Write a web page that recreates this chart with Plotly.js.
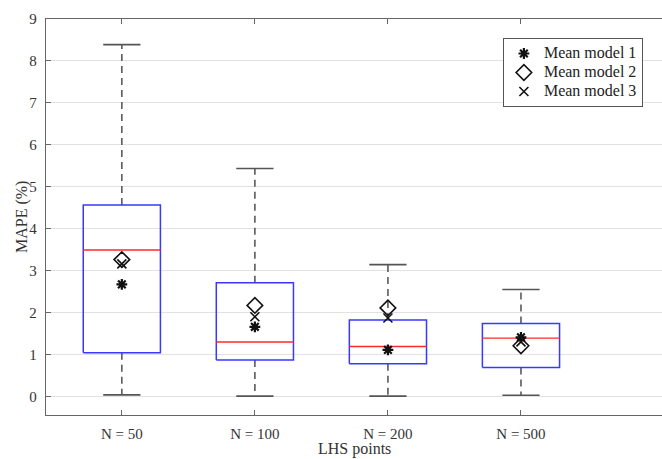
<!DOCTYPE html>
<html>
<head>
<meta charset="utf-8">
<script src="https://cdn.plot.ly/plotly-3.0.1.min.js"></script>
<style>
  html, body { margin: 0; padding: 0; background: #fff; overflow: hidden; }
  #chart { width: 662px; height: 459px; }
</style>
</head>
<body>
<div id="chart"></div>
<script>
// Sample sizes (LHS points) and MAPE box statistics, in %
const categories = ['N = 50', 'N = 100', 'N = 200', 'N = 500'];
const lowerWhisker = [0.05, 0.02, 0.02, 0.04];
const q1 = [1.05, 0.88, 0.79, 0.70];
const median = [3.50, 1.31, 1.20, 1.40];
const q3 = [4.57, 2.72, 1.83, 1.75];
const upperWhisker = [8.39, 5.44, 3.15, 2.56];

// Mean MAPE of each model per sample size
const meanModel1 = [2.68, 1.67, 1.12, 1.42];
const meanModel2 = [3.27, 2.18, 2.12, 1.22];
const meanModel3 = [3.17, 1.91, 1.88, 1.31];

const seriesNames = ['Mean model 1', 'Mean model 2', 'Mean model 3'];
const yTicks = [0, 1, 2, 3, 4, 5, 6, 7, 8, 9];
const xTitle = 'LHS points';
const yTitle = 'MAPE (%)';

const serif = 'Liberation Serif, Times New Roman, serif';
const pos = categories.map((_, i) => i + 1);
const boxHalf = 0.29;   // half box width, in category units
const capHalf = 0.14;   // half whisker-cap width

// Legend labels drawn larger than the compact legend row height
const legendLabel = t => '<span style="font-size:16px">' + t + '</span>';

// Assemble per-group line paths separated by nulls
function paths(build) {
  const xs = [], ys = [];
  pos.forEach((p, i) => {
    const seg = build(p, i);
    xs.push(...seg.x, null);
    ys.push(...seg.y, null);
  });
  return { x: xs, y: ys };
}

const whiskers = paths((p, i) => ({
  x: [p, p, null, p, p],
  y: [q3[i], upperWhisker[i], null, q1[i], lowerWhisker[i]]
}));
const caps = paths((p, i) => ({
  x: [p - capHalf, p + capHalf, null, p - capHalf, p + capHalf],
  y: [upperWhisker[i], upperWhisker[i], null, lowerWhisker[i], lowerWhisker[i]]
}));
const boxes = paths((p, i) => ({
  x: [p - boxHalf, p + boxHalf, p + boxHalf, p - boxHalf, p - boxHalf],
  y: [q1[i], q1[i], q3[i], q3[i], q1[i]]
}));
const medians = paths((p, i) => ({
  x: [p - boxHalf, p + boxHalf],
  y: [median[i], median[i]]
}));

const traces = [
  { type: 'scatter', mode: 'lines', x: whiskers.x, y: whiskers.y, showlegend: false,
    hoverinfo: 'skip', line: { color: '#5a5a5a', width: 1.6, dash: '7px,5px' } },
  { type: 'scatter', mode: 'lines', x: caps.x, y: caps.y, showlegend: false,
    hoverinfo: 'skip', line: { color: '#555', width: 1.6 } },
  { type: 'scatter', mode: 'lines', x: boxes.x, y: boxes.y, showlegend: false,
    hoverinfo: 'skip', line: { color: '#3838ff', width: 1.5 } },
  { type: 'scatter', mode: 'lines', x: medians.x, y: medians.y, showlegend: false,
    hoverinfo: 'skip', line: { color: '#ff2a2a', width: 1.4 } },
  { type: 'scatter', mode: 'markers', name: legendLabel(seriesNames[0]), x: pos, y: meanModel1,
    marker: { symbol: 'asterisk-open', size: 9, color: '#111', line: { color: '#111', width: 2.2 } } },
  { type: 'scatter', mode: 'markers', name: legendLabel(seriesNames[1]), x: pos, y: meanModel2,
    marker: { symbol: 'diamond-open', size: 12, color: '#111', line: { color: '#111', width: 1.6 } } },
  { type: 'scatter', mode: 'markers', name: legendLabel(seriesNames[2]), x: pos, y: meanModel3,
    marker: { symbol: 'x-thin-open', size: 9, color: '#111', line: { color: '#111', width: 1.6 } } }
];

const layout = {
  width: 662,
  height: 459,
  margin: { l: 46, r: 0, t: 19, b: 44 },
  paper_bgcolor: '#fff',
  plot_bgcolor: '#fff',
  font: { family: serif, size: 15, color: '#333' },
  showlegend: true,
  legend: {
    x: 0.969, y: 0.952, xanchor: 'right', yanchor: 'top',
    bgcolor: '#fff', bordercolor: '#555', borderwidth: 1,
    font: { family: serif, size: 12, color: '#222' },
    itemclick: false
  },
  xaxis: {
    range: [0.43, 5.06],
    tickvals: pos,
    ticktext: categories,
    ticks: 'inside', ticklen: 5, tickcolor: '#666', tickwidth: 1,
    showline: true, linecolor: '#666', linewidth: 1.2, mirror: 'ticks',
    showgrid: false, zeroline: false,
    ticklabelstandoff: 5,
    tickfont: { family: serif, size: 15, color: '#333' }
  },
  yaxis: {
    range: [-0.43, 9],
    tickvals: yTicks,
    ticks: 'inside', ticklen: 5, tickcolor: '#666', tickwidth: 1,
    showline: true, linecolor: '#666', linewidth: 1.2,
    showgrid: true, gridcolor: '#e2e2e2', gridwidth: 1,
    zeroline: false,
    ticklabelstandoff: 5,
    tickfont: { family: serif, size: 15, color: '#333' }
  },
  // Axis titles placed as annotations so they can sit close to the page edges
  annotations: [
    { text: xTitle, xref: 'paper', yref: 'paper', x: 0.5, y: 0,
      xanchor: 'center', yanchor: 'bottom', yshift: -44, showarrow: false,
      borderpad: 0, font: { family: serif, size: 16, color: '#333' } },
    { text: yTitle, xref: 'paper', yref: 'paper', x: 0, y: 0.5, textangle: -90,
      xanchor: 'center', yanchor: 'middle', xshift: -24, showarrow: false,
      borderpad: 0, font: { family: serif, size: 16, color: '#333' } }
  ]
};

Plotly.newPlot('chart', traces, layout, { displayModeBar: false, staticPlot: true });
</script>
</body>
</html>
